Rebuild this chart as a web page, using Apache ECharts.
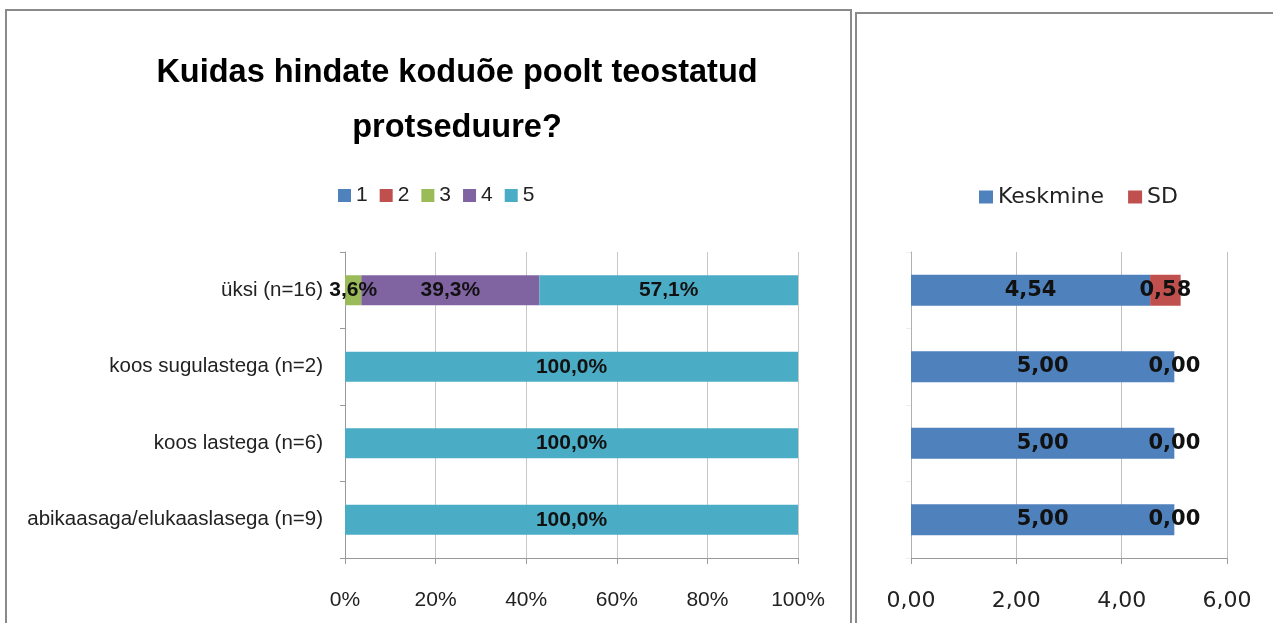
<!DOCTYPE html>
<html><head><meta charset="utf-8">
<script src="https://cdn.jsdelivr.net/npm/echarts@6/dist/echarts.min.js"></script>
<style>html,body{margin:0;padding:0;background:#fff}#c{width:1273px;height:623px}</style>
</head><body><div id="c"></div>
<script>
const categories = ['üksi (n=16)', 'koos sugulastega (n=2)', 'koos lastega (n=6)', 'abikaasaga/elukaaslasega (n=9)'];
const scoreNames = ['1', '2', '3', '4', '5'];
const score1 = [0, 0, 0, 0];
const score2 = [0, 0, 0, 0];
const score3 = [3.6, 0, 0, 0];
const score4 = [39.3, 0, 0, 0];
const score5 = [57.1, 100, 100, 100];
const keskmine = [4.54, 5.00, 5.00, 5.00];
const sd = [0.58, 0.00, 0.00, 0.00];
const pctTicks = [0, 20, 40, 60, 80, 100];
const meanTicks = [0, 2, 4, 6];

const narrow = "'Liberation Sans', Arial, sans-serif";
const wide = "'DejaVu Sans', sans-serif";
const colors = ['#4F81BD', '#C0504D', '#9BBB59', '#8064A2', '#4BACC6'];
const scoreData = [score1, score2, score3, score4, score5];

const leftSeries = scoreNames.map((n, i) => ({
  name: n, type: 'bar', stack: 'p', xAxisIndex: 0, yAxisIndex: 0,
  barWidth: 30, data: scoreData[i],
  itemStyle: {color: colors[i]},
  label: {show: true, position: 'inside', fontFamily: narrow, fontWeight: 'bold', fontSize: 21, color: '#111',
    formatter: p => p.value > 0 ? p.value.toFixed(1).replace('.', ',') + '%' : ''}
}));

const fmt2 = p => p.value.toFixed(2).replace('.', ',');
const option = {
  animation: false,
  title: {text: 'Kuidas hindate koduõe poolt teostatud\nprotseduure?', left: 452, top: 41, textAlign: 'center',
    textStyle: {fontFamily: narrow, fontSize: 32.5, fontWeight: 'bold', color: '#000', lineHeight: 55}},
  legend: [
    {data: scoreNames, left: 333, top: 180, itemWidth: 13, itemHeight: 13, itemGap: 12, icon: 'rect',
      textStyle: {fontFamily: narrow, fontSize: 21, color: '#222'}},
    {data: ['Keskmine', 'SD'], left: 974, top: 181, itemWidth: 14, itemHeight: 13, itemGap: 24, icon: 'rect',
      textStyle: {fontFamily: wide, fontSize: 22, color: '#222'}}
  ],
  grid: [
    {left: 345, right: 475, top: 252, bottom: 65},
    {left: 911, right: 46, top: 252, bottom: 65}
  ],
  xAxis: [
    {type: 'value', gridIndex: 0, min: 0, max: 100, interval: 20,
      axisLine: {show: true, lineStyle: {color: '#9a9a9a'}},
      axisTick: {show: true, length: 6, lineStyle: {color: '#9a9a9a'}},
      splitLine: {lineStyle: {color: '#c8c8c8'}},
      axisLabel: {margin: 32, fontFamily: narrow, fontSize: 21, color: '#222', formatter: v => v + '%'}},
    {type: 'value', gridIndex: 1, min: 0, max: 6, interval: 2,
      axisLine: {show: true, lineStyle: {color: '#9a9a9a'}},
      axisTick: {show: true, length: 6, lineStyle: {color: '#9a9a9a'}},
      splitLine: {lineStyle: {color: '#c0c0c0'}},
      axisLabel: {margin: 32, fontFamily: wide, fontSize: 22, color: '#222', formatter: v => v.toFixed(2).replace('.', ',')}}
  ],
  yAxis: [
    {type: 'category', gridIndex: 0, data: categories, inverse: true,
      axisLine: {show: true, lineStyle: {color: '#9a9a9a'}},
      axisTick: {show: true, length: 5, lineStyle: {color: '#9a9a9a'}},
      axisLabel: {margin: 22, fontFamily: narrow, fontSize: 20.5, color: '#222'}},
    {type: 'category', gridIndex: 1, data: categories, inverse: true,
      axisLine: {show: true, lineStyle: {color: '#b0b0b0'}},
      axisTick: {show: true, length: 5, lineStyle: {color: '#eeeeee'}},
      axisLabel: {show: false}}
  ],
  series: leftSeries.concat([
    {name: 'Keskmine', type: 'bar', stack: 'm', xAxisIndex: 1, yAxisIndex: 1, barWidth: 31, data: keskmine,
      itemStyle: {color: colors[0]},
      label: {show: true, position: 'inside', fontFamily: wide, fontWeight: 'bold', fontSize: 21, color: '#111', formatter: fmt2}},
    {name: 'SD', type: 'bar', stack: 'm', xAxisIndex: 1, yAxisIndex: 1, barWidth: 31, data: sd,
      itemStyle: {color: colors[1]},
      label: {show: true, position: 'inside', fontFamily: wide, fontWeight: 'bold', fontSize: 21, color: '#111', formatter: fmt2}}
  ]),
  graphic: [
    {type: 'rect', shape: {x: 6, y: 10, width: 845, height: 640}, style: {fill: 'none', stroke: '#8a8a8a', lineWidth: 2}, silent: true},
    {type: 'rect', shape: {x: 856, y: 13, width: 440, height: 640}, style: {fill: 'none', stroke: '#8a8a8a', lineWidth: 2}, silent: true}
  ]
};
const chart = echarts.init(document.getElementById('c'), null, {renderer: 'canvas'});
chart.setOption(option);
</script></body></html>
